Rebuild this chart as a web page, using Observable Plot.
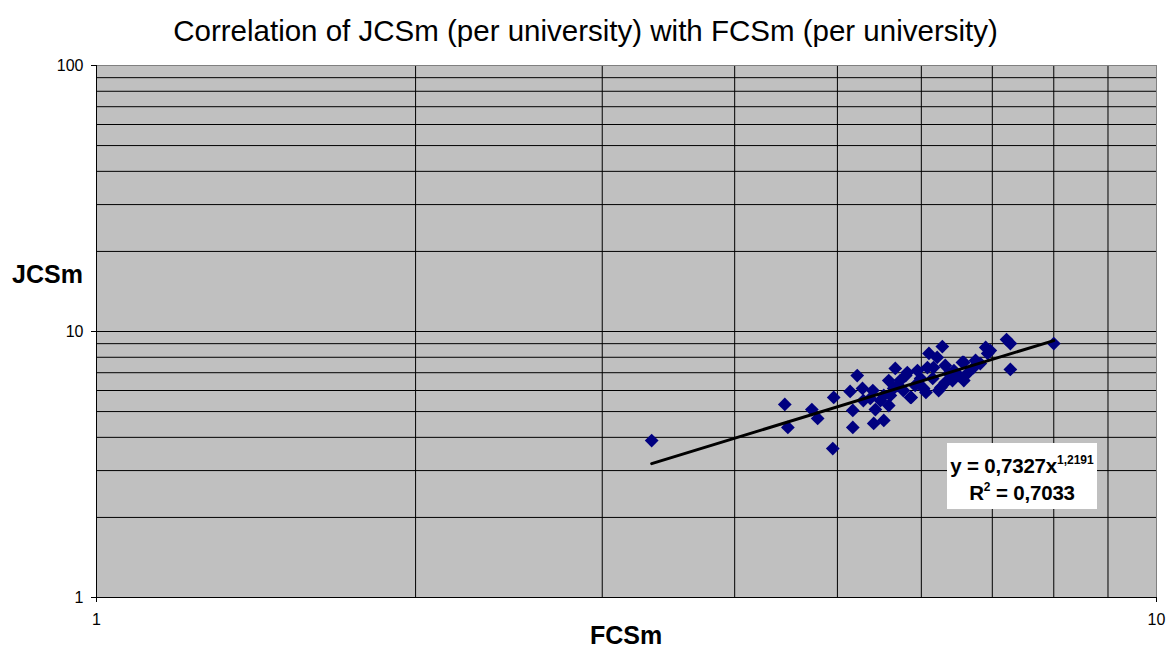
<!DOCTYPE html>
<html>
<head>
<meta charset="utf-8">
<script src="https://cdn.jsdelivr.net/npm/d3@7"></script>
<script src="https://cdn.jsdelivr.net/npm/@observablehq/plot@0.6"></script>
<style>
  html, body { margin: 0; padding: 0; background: #fff; }
  #wrap { position: relative; width: 1171px; height: 647px; font-family: "Liberation Sans", Arial, sans-serif; }
  #title { position: absolute; top: 14px; left: 0; width: 1171px; text-align: center; font-size: 29.5px; color: #000; white-space: nowrap; }
  #ylab { position: absolute; left: 12px; top: 260px; font-size: 25px; font-weight: bold; }
  #xlab { position: absolute; left: 0; width: 1252px; top: 621px; text-align: center; font-size: 25px; font-weight: bold; }
  #eq { position: absolute; left: 947px; top: 443px; width: 150px; height: 66px; background: #fff; text-align: center; font-size: 20.5px; font-weight: bold; line-height: 27px; padding-top: 9px; box-sizing: border-box; white-space: nowrap; letter-spacing: -0.2px; }
  #eq sup { font-size: 12px; line-height: 0; vertical-align: 9px; letter-spacing: 0; }
</style>
</head>
<body>
<div id="wrap">
  <div id="chart"></div>
  <div id="title">Correlation of JCSm (per university) with FCSm (per university)</div>
  <div id="ylab">JCSm</div>
  <div id="xlab">FCSm</div>
  <div id="eq">y = 0,7327x<sup>1,2191</sup><br>R<sup>2</sup> = 0,7033</div>
</div>
<script>
// FCSm per university (x) and JCSm per university (y)
const fcsm = [3.34, 4.95, 4.46, 4.49, 4.73, 4.79, 4.96, 5.17, 5.17, 5.22,
  5.14, 5.28, 5.29, 5.40, 5.43, 5.41, 5.53, 5.59, 5.53, 5.59,
  5.67, 5.70, 5.80, 5.87, 5.95, 6.03, 6.10, 6.16, 6.28, 6.21,
  6.32, 6.44, 6.58, 6.58, 6.82, 6.90, 6.93, 7.22, 7.28, 7.28,
  8.00, 5.65, 5.86, 5.82, 6.08, 6.15, 6.26, 6.42, 6.56, 6.63,
  6.72, 6.06, 6.23, 5.77, 5.49, 5.61, 5.37, 5.99, 6.32, 6.51,
  6.75, 6.97, 5.73, 5.92, 6.37];
const jcsm = [3.89, 3.63, 5.32, 4.36, 5.09, 4.71, 5.65, 4.36, 5.05, 6.83,
  5.95, 6.11, 5.50, 6.00, 5.09, 4.51, 4.63, 5.27, 5.75, 6.54,
  7.26, 6.27, 6.83, 5.65, 7.13, 6.11, 8.27, 7.32, 8.78, 7.99,
  6.43, 7.13, 7.65, 6.54, 7.58, 8.71, 8.27, 9.33, 9.01, 7.20,
  9.01, 6.11, 5.65, 7.01, 7.32, 6.66, 6.16, 6.54, 7.65, 6.95,
  7.32, 5.90, 6.00, 6.00, 5.50, 5.75, 5.60, 6.66, 7.45, 6.83,
  7.78, 8.48, 6.54, 6.27, 6.95];

// Power trendline shown in the chart: y = a * x^b
const trendA = 0.7327;
const trendB = 1.2191;

const xTicks = [1, 10];
const yTicks = [1, 10, 100];
const xGrid = [2, 3, 4, 5, 6, 7, 8, 9];
const yGrid = [2, 3, 4, 5, 6, 7, 8, 9, 10, 20, 30, 40, 50, 60, 70, 80, 90];

const points = fcsm.map((x, i) => ({x, y: jcsm[i]}));
const xMin = d3.min(fcsm), xMax = d3.max(fcsm);
const trend = [xMin, xMax].map(x => ({x, y: trendA * Math.pow(x, trendB)}));

const chart = Plot.plot({
  width: 1171,
  height: 647,
  marginTop: 65,
  marginLeft: 96,
  marginRight: 15,
  marginBottom: 50,
  style: {fontFamily: "'Liberation Sans', Arial, sans-serif", fontSize: "16px", color: "#000", background: "#fff"},
  x: {type: "log", domain: [1, 10], label: null},
  y: {type: "log", domain: [1, 100], label: null},
  marks: [
    Plot.frame({fill: "#c0c0c0", stroke: "#808080"}),
    Plot.ruleX(xGrid, {stroke: "#000", strokeWidth: 1}),
    Plot.ruleY(yGrid, {stroke: "#000", strokeWidth: 1}),
    Plot.ruleY([100], {stroke: "#808080", strokeWidth: 1}),
    Plot.ruleX([1], {stroke: "#000"}),
    Plot.ruleY([1], {stroke: "#000"}),
    Plot.axisX(xTicks, {tickSize: 5, tickPadding: 11, tickFormat: d => String(d), fontSize: 16}),
    Plot.axisY(yTicks, {tickSize: 5, tickPadding: 8, tickFormat: d => String(d), fontSize: 16}),
    Plot.dot(points, {x: "x", y: "y", symbol: "diamond2", r: 6.2, fill: "#000080", stroke: "none"}),
    Plot.line(trend, {x: "x", y: "y", stroke: "#000", strokeWidth: 3})
  ]
});
document.getElementById("chart").appendChild(chart);
</script>
</body>
</html>
